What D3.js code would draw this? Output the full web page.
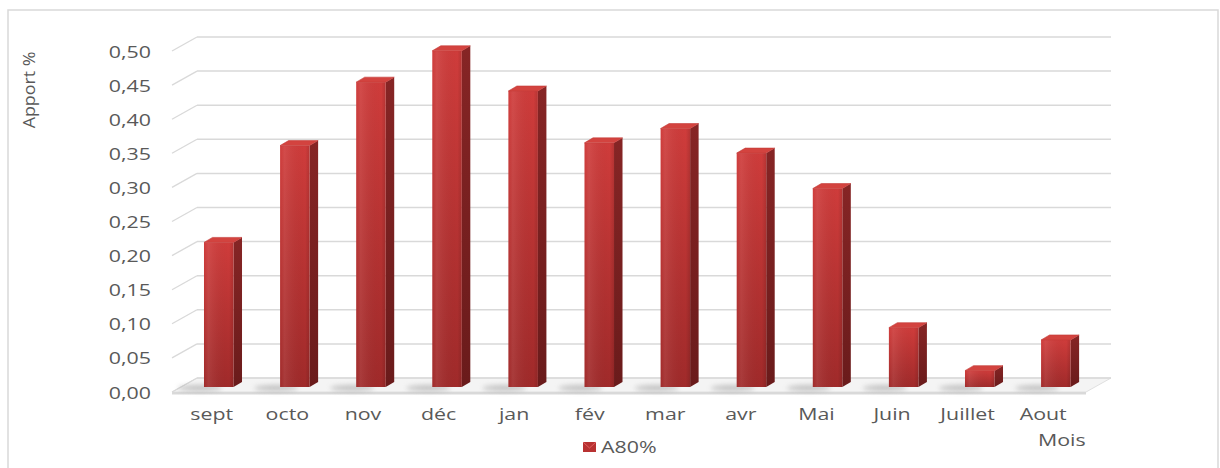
<!DOCTYPE html>
<html><head><meta charset="utf-8">
<script src="https://cdn.jsdelivr.net/npm/d3@7"></script>
<style>
html,body{margin:0;padding:0;background:#fff;}
svg{display:block;}
text{font-family:"Open Sans",sans-serif;fill:#595959;}
</style></head>
<body><svg id="c" width="1220" height="468"></svg>
<script>
const months = ["sept","octo","nov","déc","jan","fév","mar","avr","Mai","Juin","Juillet","Aout"];
const values = [0.212,0.354,0.447,0.493,0.434,0.358,0.379,0.343,0.291,0.087,0.024,0.069];
const yTicks = [0,0.05,0.10,0.15,0.20,0.25,0.30,0.35,0.40,0.45,0.50];
const seriesName = "A80%";
const yTitle = "Apport %";
const xTitle = "Mois";

const svg = d3.select("#c");
const defs = svg.append("defs");
const SX = 1.38;
const FS = 15.5;

// depth geometry
const DX = -25, DY = 14;          // back wall -> front floor edge
const backX0 = 197, backX1 = 1111;
const yBack = d3.scaleLinear().domain([0,0.5]).range([378,37]);
const yFront = d3.scaleLinear().domain([0,0.5]).range([378+DY,37+DY]);
const yBar = d3.scaleLinear().domain([0,0.5]).range([387,46]);
const xBar = d3.scaleBand().domain(months).range([180.7,1093.9]).paddingInner(0.612).paddingOuter(0.306);
const xLab = d3.scaleBand().domain(months).range([174,1081]);
const sdx = 8.5, sdy = -5;

// gradients
const gFront = defs.append("linearGradient").attr("id","gf").attr("x1",0).attr("y1",0).attr("x2",0).attr("y2",1);
gFront.append("stop").attr("offset","0%").attr("stop-color","#cf3c3b");
gFront.append("stop").attr("offset","100%").attr("stop-color","#a02a2a");
const gFrontH = defs.append("linearGradient").attr("id","gfh").attr("x1",0).attr("y1",0).attr("x2",1).attr("y2",0);
gFrontH.append("stop").attr("offset","0%").attr("stop-color","#fff").attr("stop-opacity",0.0);
gFrontH.append("stop").attr("offset","15%").attr("stop-color","#fff").attr("stop-opacity",0.08);
gFrontH.append("stop").attr("offset","85%").attr("stop-color","#000").attr("stop-opacity",0.0);
gFrontH.append("stop").attr("offset","100%").attr("stop-color","#000").attr("stop-opacity",0.12);
const gSide = defs.append("linearGradient").attr("id","gs").attr("x1",0).attr("y1",0).attr("x2",0).attr("y2",1);
gSide.append("stop").attr("offset","0%").attr("stop-color","#862525");
gSide.append("stop").attr("offset","100%").attr("stop-color","#6a1b1b");
defs.append("filter").attr("id","blur").attr("x","-50%").attr("y","-200%").attr("width","200%").attr("height","500%")
  .append("feGaussianBlur").attr("stdDeviation",2.5);

// frame
svg.append("rect").attr("x",8).attr("y",10).attr("width",1210).attr("height",480)
  .attr("fill","none").attr("stroke","#d9d9d9").attr("stroke-width",1.5);

// floor
const floorPts = [[backX0+DX,yFront(0)],[backX0,yBack(0)],[backX1,yBack(0)],[backX1+DX,yFront(0)]];
svg.append("polygon").attr("points",floorPts.map(p=>p.join(",")).join(" "))
  .attr("fill","#f4f4f4").attr("stroke","#e0e0e0").attr("stroke-width",1);
svg.append("rect").attr("x",backX0+DX).attr("y",yFront(0)).attr("width",backX1-backX0).attr("height",2.5).attr("fill","#d9d9d9");

// gridlines (back wall + left side wall)
const grid = svg.append("g");
yTicks.forEach(t=>{
  const yb = yBack(t);
  grid.append("line").attr("x1",backX0).attr("x2",backX1).attr("y1",yb).attr("y2",yb)
    .attr("stroke","#d9d9d9").attr("stroke-width",1.5);
  grid.append("line").attr("x1",backX0+DX).attr("y1",yFront(t)).attr("x2",backX0).attr("y2",yb)
    .attr("stroke","#d9d9d9").attr("stroke-width",1.3);
});

// shadows
svg.append("g").selectAll("ellipse").data(months).join("ellipse")
  .attr("cx",d=>xBar(d)-4).attr("cy",yBar(0)+1)
  .attr("rx",22).attr("ry",3).attr("fill","#9a9a9a").attr("opacity",0.55)
  .attr("filter","url(#blur)");

// bars
const bars = svg.append("g").selectAll("g").data(months.map((m,i)=>({m,v:values[i]}))).join("g");
const bw = xBar.bandwidth();
bars.append("polygon").attr("fill","url(#gs)")
  .attr("points",d=>{const x1=xBar(d.m)+bw, yt=yBar(d.v), yb=yBar(0);
    return [[x1,yt],[x1+sdx,yt+sdy],[x1+sdx,yb+sdy],[x1,yb]].map(p=>p.join(",")).join(" ");});
bars.append("rect").attr("x",d=>xBar(d.m)).attr("y",d=>yBar(d.v)).attr("width",bw)
  .attr("height",d=>yBar(0)-yBar(d.v)).attr("fill","url(#gf)");
bars.append("rect").attr("x",d=>xBar(d.m)).attr("y",d=>yBar(d.v)).attr("width",bw)
  .attr("height",d=>yBar(0)-yBar(d.v)).attr("fill","url(#gfh)");
bars.append("polygon").attr("fill","#d3433f").attr("stroke","#c23a37").attr("stroke-width",0.6).attr("stroke-linejoin","round")
  .attr("points",d=>{const x0=xBar(d.m), x1=x0+bw, yt=yBar(d.v);
    return [[x0,yt],[x0+sdx,yt+sdy],[x1+sdx,yt+sdy],[x1,yt]].map(p=>p.join(",")).join(" ");});

// y tick labels
const fmt = d3.format(".2f");
svg.append("g").selectAll("text").data(yTicks).join("text")
  .attr("transform",t=>`translate(151,${yFront(t)+6.5}) scale(${SX},1)`)
  .attr("text-anchor","end").attr("font-size",FS)
  .text(t=>fmt(t).replace(".",","));

// x labels
svg.append("g").selectAll("text").data(months).join("text")
  .attr("transform",d=>`translate(${xLab(d)+xLab.bandwidth()/2},420) scale(${SX},1)`)
  .attr("text-anchor","middle").attr("font-size",FS)
  .text(d=>d);

// axis titles
svg.append("text").attr("transform","translate(35,90) rotate(-90) scale(1.08,1)")
  .attr("text-anchor","middle").attr("font-size",16.5).text(yTitle);
svg.append("text").attr("transform",`translate(1038,445.5) scale(${SX},1)`)
  .attr("font-size",FS).text(xTitle);

// legend
const lg = svg.append("g");
lg.append("rect").attr("x",583).attr("y",442).attr("width",13).attr("height",10).attr("fill","#b83232");
lg.append("polyline").attr("points","583,442 589.5,448 596,442").attr("fill","none").attr("stroke","#e06060").attr("stroke-width",1);
lg.append("text").attr("transform",`translate(601,452.5) scale(${SX},1)`).attr("font-size",FS).text(seriesName);
</script></body></html>
